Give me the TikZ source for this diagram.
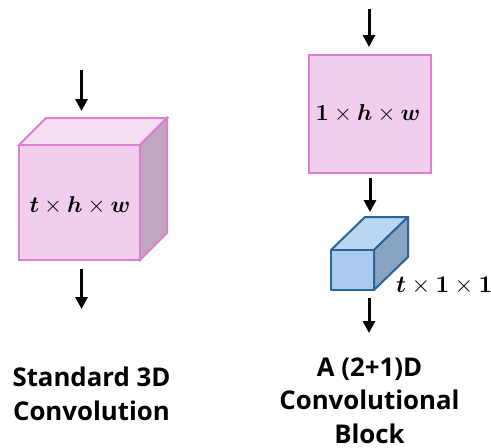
\documentclass[tikz,border=0pt]{standalone}
\usepackage{amsmath}
\usepackage{fontspec}
\setmainfont{Open Sans}
\usetikzlibrary{arrows.meta}
\definecolor{pinkline}{HTML}{DD7FD0}
\definecolor{pinkfront}{HTML}{F1CEEE}
\definecolor{pinktop}{HTML}{F5DDF2}
\definecolor{pinkside}{HTML}{C2A5C0}
\definecolor{blueline}{HTML}{2A6399}
\definecolor{bluefront}{HTML}{A9CCEE}
\definecolor{bluetop}{HTML}{BAD6F1}
\definecolor{blueside}{HTML}{87A5C3}
\tikzset{
  pinkface/.style={draw=pinkline,line width=2pt,line join=miter},
  blueface/.style={draw=blueline,line width=2pt,line join=round},
  flow/.style={-{Triangle[length=12pt,width=12pt]},line width=3pt,black},
  dims/.style={inner sep=0pt},
  caption/.style={align=center,inner sep=0pt,font=\fontsize{25.8}{33.5}\selectfont\bfseries}
}
\begin{document}
\begin{tikzpicture}[x=1pt,y=-1pt]
\useasboundingbox (0,0) rectangle (491,448);
% left cube
\draw[pinkface,fill=pinktop] (19,145) -- (46,118) -- (167,118) -- (140,145) -- cycle;
\draw[pinkface,fill=pinkside] (140,145) -- (167,118) -- (167,233) -- (140,260) -- cycle;
\draw[pinkface,fill=pinkfront] (19,145) rectangle (140,260);
\node[dims] (cubelabel) at (80,205) {\scalebox{2.3}{$\boldsymbol{t}\times\boldsymbol{h}\times\boldsymbol{w}$}};
% right square
\draw[pinkface,fill=pinkfront] (308.5,54.5) rectangle (430.5,172.5);
\node[dims] (squarelabel) at (368,113) {\scalebox{2.3}{$\boldsymbol{1}\times\boldsymbol{h}\times\boldsymbol{w}$}};
% blue block
\draw[blueface,fill=bluetop] (331,250) -- (365,217) -- (408,217) -- (374,250) -- cycle;
\draw[blueface,fill=blueside] (374,250) -- (408,217) -- (408,257) -- (374,290) -- cycle;
\draw[blueface,fill=bluefront] (331,250) rectangle (374,290);
\node[dims,anchor=west] (blocklabel) at (396,286) {\scalebox{2.4}{$\boldsymbol{t}\times\boldsymbol{1}\times\boldsymbol{1}$}};
% arrows
\coordinate (a1s) at (81.5,70); \coordinate (a1e) at (81.5,111);
\coordinate (a2s) at (81.5,269); \coordinate (a2e) at (81.5,309);
\coordinate (a3s) at (369,9); \coordinate (a3e) at (369,47);
\coordinate (a4s) at (370,178); \coordinate (a4e) at (370,212);
\coordinate (a5s) at (369,298); \coordinate (a5e) at (369,333);
\draw[flow] (a1s) -- (a1e);
\draw[flow] (a2s) -- (a2e);
\draw[flow] (a3s) -- (a3e);
\draw[flow] (a4s) -- (a4e);
\draw[flow] (a5s) -- (a5e);
% captions
\node[caption] (leftcap) at (91.5,394) {Standard 3D\\Convolution};
\node[caption] (rightcap) at (369.5,400.5) {A (2+1)D\\Convolutional\\Block};
\end{tikzpicture}
\end{document}
